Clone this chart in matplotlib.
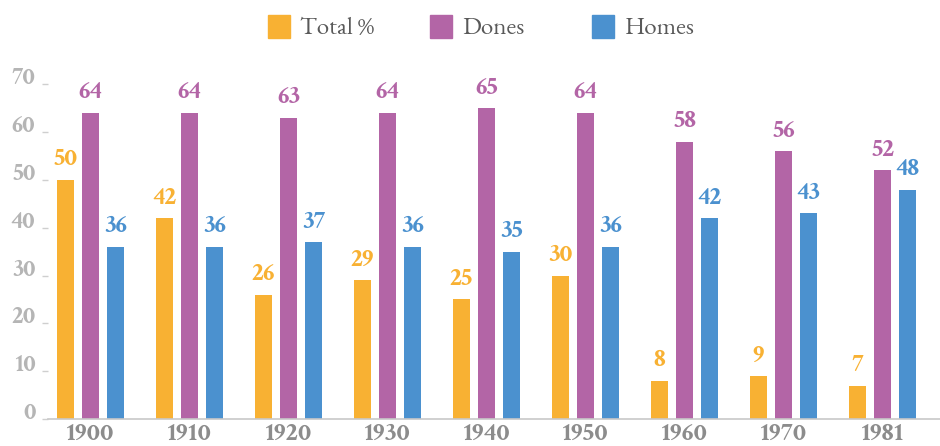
import numpy as np
import matplotlib
matplotlib.use('agg')
import matplotlib.pyplot as plt
from matplotlib.patches import Rectangle

years = ['1900', '1910', '1920', '1930', '1940', '1950', '1960', '1970', '1981']
total = [50, 42, 26, 29, 25, 30, 8, 9, 7]
dones = [64, 64, 63, 64, 65, 64, 58, 56, 52]
homes = [36, 36, 37, 36, 35, 36, 42, 43, 48]
series_names = ['Total %', 'Dones', 'Homes']
series_colors = ['#F8B133', '#B365A6', '#4B91CF']
y_ticks = [0, 10, 20, 30, 40, 50, 60, 70]

num_font = ['Crimson Text', 'Liberation Serif']
leg_font = ['EB Garamond', 'Liberation Serif']

fig = plt.figure(figsize=(9.4, 4.46), dpi=100)
ax = fig.add_axes([0.051, 0.0605, 0.949, 0.7815])

x = np.arange(len(years))
width = 0.17
offset = 0.253
for i, (vals, col) in enumerate(zip([total, dones, homes], series_colors)):
    xs = x + (i - 1) * offset
    ax.bar(xs, vals, width, color=col)
    for xi, v in zip(xs, vals):
        ax.annotate(str(v), (xi, v), xytext=(0, 10.5), textcoords='offset points',
                    ha='center', va='baseline', color=col, fontsize=18.5,
                    fontweight='bold', family=num_font)

ax.set_xlim(-0.43, 8.58)
ax.set_ylim(0, 72.9)
ax.set_xticks(x)
ax.set_xticklabels(years, fontsize=19, fontweight='bold', color='#8c8c8c', family=num_font)
ax.set_yticks(y_ticks)
ax.set_yticklabels([str(t) for t in y_ticks], fontsize=18, fontweight='bold',
                   color='#b5b5b5', family=num_font, va='baseline')
ax.tick_params(axis='x', length=0, pad=3)
ax.tick_params(axis='y', length=4, width=1, color='#cfcfcf', pad=5)
for s in ['top', 'right', 'left']:
    ax.spines[s].set_visible(False)
ax.spines['bottom'].set_color('#c8c8c8')
ax.spines['bottom'].set_linewidth(1.2)

# legend drawn by hand: fixed-pitch entries across the top
W, H = 940.0, 446.0
for i, (name, col) in enumerate(zip(series_names, series_colors)):
    left = 268 + i * 162
    fig.patches.append(Rectangle((left / W, 1 - 38 / H), 22 / W, 23 / H,
                                 transform=fig.transFigure, color=col))
    fig.text((left + 32) / W, 1 - 29 / H, name, fontsize=18, color='#595959',
             family=leg_font, va='center', ha='left')

fig.savefig('out.png', dpi=100)
